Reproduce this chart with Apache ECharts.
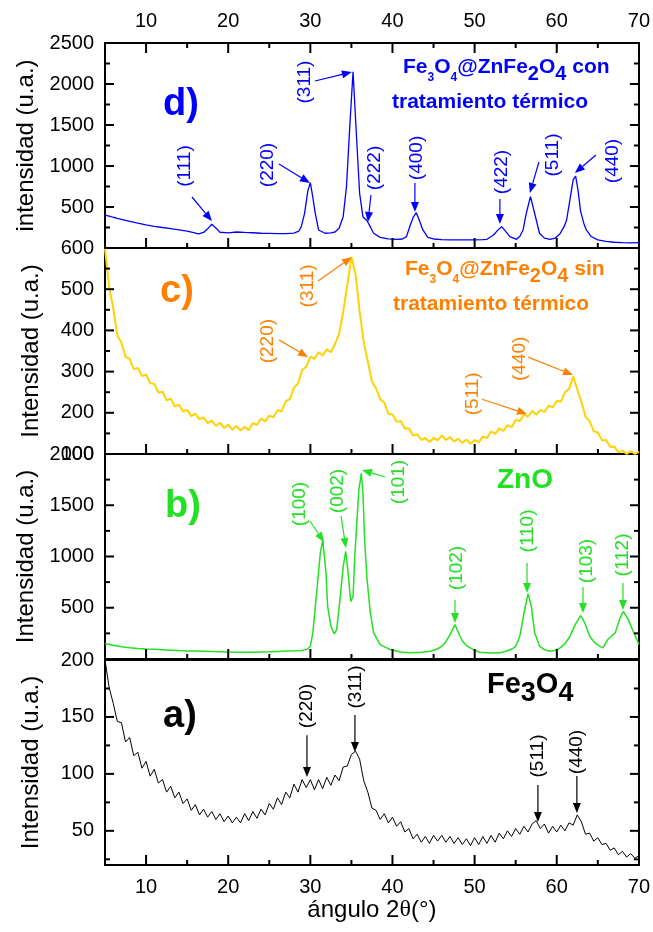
<!DOCTYPE html>
<html><head><meta charset="utf-8">
<script src="https://cdn.jsdelivr.net/npm/echarts@6.0.0/dist/echarts.min.js"></script>
<style>html,body{margin:0;padding:0;background:#fff}#c{width:653px;height:932px}</style>
</head><body><div id="c"></div>
<script>
// ---------- tick labels ----------
const X_LABELS = [10, 20, 30, 40, 50, 60, 70];
const X_MAJOR = [10, 20, 30, 40, 50, 60];
const X_MINOR = [15, 25, 35, 45, 55, 65];
const D_LABELS = [500, 1000, 1500, 2000, 2500];
const D_MAJOR = [500, 1000, 1500, 2000];
const D_MINOR = [250, 750, 1250, 1750, 2250];
const C_LABELS = [100, 200, 300, 400, 500, 600];
const C_MAJOR = [200, 300, 400, 500];
const C_MINOR = [150, 250, 350, 450, 550];
const B_LABELS = [500, 1000, 1500, 2000];
const B_MAJOR = [500, 1000, 1500];
const B_MINOR = [250, 750, 1250, 1750];
const A_LABELS = [50, 100, 150, 200];
const A_MAJOR = [50, 100, 150];
const A_MINOR = [25, 75, 125, 175];

// ---------- data ----------
// d) Fe3O4@ZnFe2O4 con tratamiento térmico  [2θ, intensity]
const panelD = [[5,402],[5.5,390],[6,375],[6.5,362],[7,350],[8,325],[9,302],[10,282],[11,265],[12,250],[13,236],[14,222],[15,205],[15.8,188],[16.4,172],[17,190],[17.6,245],[18,290],[18.5,245],[19,192],[20,185],[21,195],[22,190],[23,186],[24,180],[25,178],[26,176],[27,176],[28,182],[28.6,205],[28.9,260],[29.3,423],[29.7,700],[30.0,797],[30.3,620],[30.6,423],[31.0,220],[31.8,180],[32.5,185],[33,195],[33.5,240],[34.0,382],[34.4,748],[34.8,1480],[35.2,2150],[35.6,1400],[36.0,667],[36.4,382],[36.9,333],[37.3,260],[37.7,180],[38.5,130],[39.5,112],[40.5,105],[41.2,110],[41.7,138],[42.1,260],[42.5,370],[42.9,431],[43.3,330],[43.7,220],[44.3,130],[45,110],[46,102],[47,100],[48,98],[49,98],[50,100],[51,102],[51.5,106],[52.3,158],[52.8,215],[53.3,260],[53.8,200],[54.3,138],[55.1,106],[55.5,140],[55.9,220],[56.3,427],[56.8,626],[57.3,427],[57.9,180],[58.5,120],[59.2,105],[59.8,120],[60.4,175],[60.9,260],[61.2,341],[61.6,585],[62.0,830],[62.3,878],[62.6,700],[62.9,450],[63.3,300],[63.6,220],[64.2,140],[65,100],[66,80],[67,70],[68,65],[69,62],[70,65]];

// c) Fe3O4@ZnFe2O4 sin tratamiento térmico, values every 0.5° from 5° to 70°
const panelCStart = 5, panelCStep = 0.5;
const panelC = [598,505,455,388,370,336,331,306,309,289,293,272,270,249,251,230,234,215,220,203,207,192,198,184,189,175,181,168,176,163,171,159,168,157,166,158,175,171,186,179,193,189,206,204,228,233,261,271,304,312,336,331,347,339,354,347,367,392,446,511,578,536,445,371,324,276,259,233,225,197,196,178,180,162,162,145,148,134,139,129,139,133,145,134,141,130,137,127,135,125,134,129,142,139,155,149,162,156,170,165,183,180,195,191,205,195,207,202,217,213,229,227,250,258,288,256,226,190,179,155,152,133,134,117,118,104,108,100,107,100,106];

// b) ZnO  [2θ, intensity]
const panelB = [[5,151],[6,135],[7,120],[8,109],[9,103],[10,98],[11,94],[12,90],[13,86],[14,82],[15,79],[16,77],[17,75],[18,72],[19,70],[20,68],[21,67],[22,66],[23,67],[24,69],[25,71],[26,74],[27,77],[28,80],[29,84],[29.6,95],[30,125],[30.3,258],[30.8,676],[31.2,1030],[31.5,1163],[31.7,1150],[31.9,842],[32.1,514],[32.5,319],[32.9,245],[33.2,287],[33.6,579],[34,903],[34.3,1049],[34.6,839],[34.9,562],[35.2,611],[35.4,1000],[35.7,1389],[35.9,1649],[36.2,1812],[36.4,1617],[36.6,1163],[36.9,774],[37.3,450],[37.7,255],[38.5,141],[39.7,92],[41,68],[42.1,60],[43.5,65],[44.6,76],[45.5,100],[46,125],[46.4,158],[47,238],[47.6,336],[48.2,222],[48.6,165],[49.1,125],[50,85],[50.6,66],[52,58],[53.1,60],[54,80],[54.6,100],[55,125],[55.5,222],[56,450],[56.5,637],[56.9,514],[57.3,255],[57.9,125],[58.5,90],[59.2,76],[59.8,85],[60.4,109],[61,150],[61.6,222],[62.2,330],[62.6,384],[62.9,423],[63.4,352],[64,222],[64.5,170],[64.9,141],[65.6,109],[66.2,190],[66.6,220],[67.1,255],[67.7,401],[68.1,465],[68.7,384],[69.3,271],[70,141]];

// a) Fe3O4, values every 0.5° from 5° to 70°
const panelAStart = 5, panelAStep = 0.5;
const panelA = [200,176,162,146,145,128,132,116,119,105,111,98,104,92,95,84,89,79,84,74,78,68,73,64,69,62,67,60,65,58,63,57,62,57,65,59,67,61,69,64,74,69,79,73,84,79,91,84,95,88,95,86,95,87,97,90,99,94,106,107,117,120,113,94,84,70,68,60,65,57,62,54,58,49,52,43,47,40,45,39,46,41,46,40,45,39,44,38,43,37,44,38,45,39,46,40,48,43,50,45,52,47,54,49,56,59,52,56,48,54,49,55,50,57,55,64,58,47,48,41,44,38,39,33,35,29,32,27,30,26,28];

// annotations: [label, labelX, labelY, fromX, fromY, toX, toY] in data units
const annD = [['(111)',14.74,1000,15.59,622,18.02,329],['(220)',24.84,1012,26.18,1024,29.95,793],['(311)',29.34,2024,30.56,2037,35.06,2146],['(222)',37.86,976,37.38,646,37.01,317],['(400)',42.98,1098,42.73,793,42.73,439],['(422)',53.32,927,53.08,598,53.08,293],['(511)',59.53,1134,57.83,1049,56.73,671],['(440)',66.83,1061,64.77,1134,62.21,915]];
const annC = [['(311)',29.71,508,30.93,520,35.06,578],['(220)',24.84,374,26.18,377,29.71,335],['(511)',49.79,246,50.89,233,56.37,197],['(440)',55.51,331,56.49,335,61.97,292]];
const annB = [['(100)',28.74,1512,29.95,1346,31.66,1141],['(002)',33.36,1639,33.73,1395,34.33,1083],['(101)',40.79,1727,39.08,1776,36.28,1844],['(102)',47.85,888,47.60,576,47.60,351],['(110)',56.49,1249,56.37,937,56.37,644],['(103)',63.67,956,63.18,702,63.18,449],['(112)',68.05,1015,68.05,741,68.05,478]];
const annA = [['(220)',29.59,159.6,29.59,134,29.59,97.3],['(311)',35.55,176.3,35.43,151.7,35.43,119.2],['(511)',57.71,115.7,57.71,90.2,57.71,57.8],['(440)',62.45,119.2,62.45,98.1,62.45,65.7]];

// ---------- build ----------
const FF = '"Liberation Sans", Arial, sans-serif';
const BLUE = '#0000FF', ORANGE = '#FF8000', YELLOW = '#FFD200', GREEN = '#22E022', BLACK = '#000000';
const TICK = '#000000';

function uniform(start, step, vals) { return vals.map((v, i) => [start + i * step, v]); }

const panels = [
  {top: 43, height: 205, min: 0, max: 2500, labels: D_LABELS, major: D_MAJOR, minor: D_MINOR, name: 'intensidad (u.a.)', data: panelD, color: BLUE, width: 1.3, ann: annD, annColor: BLUE},
  {top: 248, height: 206, min: 100, max: 600, labels: C_LABELS, major: C_MAJOR, minor: C_MINOR, name: 'Intensidad (u.a.)', data: uniform(panelCStart, panelCStep, panelC), color: YELLOW, width: 2, ann: annC, annColor: ORANGE},
  {top: 454, height: 205, min: 0, max: 2000, labels: B_LABELS, major: B_MAJOR, minor: B_MINOR, name: 'Intensidad (u.a.)', data: panelB, color: GREEN, width: 1.5, ann: annB, annColor: GREEN},
  {top: 660, height: 205, min: 20, max: 200, labels: A_LABELS, major: A_MAJOR, minor: A_MINOR, name: 'Intensidad (u.a.)', data: uniform(panelAStart, panelAStep, panelA), color: BLACK, width: 1, ann: annA, annColor: BLACK}
];

const fmt = v => String(v);
const grid = [], xAxis = [], yAxis = [], series = [];
panels.forEach((p, i) => {
  grid.push({left: 105, right: 14, top: p.top, height: p.height, containLabel: false});
  ['bottom', 'top'].forEach(pos => {
    const showLab = (pos === 'bottom' && i === 3) || (pos === 'top' && i === 0);
    const ax = {type: 'value', gridIndex: i, position: pos, min: 5, max: 70,
      axisLine: {show: true, onZero: false, lineStyle: {color: '#000', width: 2}},
      axisTick: {show: false},
      axisLabel: {show: showLab, customValues: X_LABELS, formatter: fmt, margin: 12, color: '#000', fontSize: 20, fontFamily: FF},
      splitLine: {show: false}};
    if (pos === 'bottom' && i === 3) {
      ax.name = 'ángulo 2{s|θ}(°)';
      ax.nameLocation = 'middle';
      ax.nameGap = 33;
      ax.nameTextStyle = {fontSize: 24, color: '#000', fontFamily: FF, rich: {s: {fontSize: 24, fontFamily: '"Liberation Serif", serif', color: '#000'}}};
    }
    xAxis.push(ax);
  });
  ['left', 'right'].forEach(pos => {
    const ax = {type: 'value', gridIndex: i, position: pos, min: p.min, max: p.max,
      axisLine: {show: true, onZero: false, lineStyle: {color: '#000', width: 2}},
      axisTick: {show: false},
      axisLabel: {show: pos === 'left', customValues: p.labels, formatter: fmt, margin: 11, color: '#000', fontSize: 20, fontFamily: FF},
      splitLine: {show: false}};
    if (pos === 'left') {
      ax.name = p.name; ax.nameLocation = 'middle'; ax.nameGap = 62;
      ax.nameTextStyle = {fontSize: 24, color: '#000', fontFamily: FF};
    }
    yAxis.push(ax);
  });
  series.push({type: 'line', xAxisIndex: 2 * i, yAxisIndex: 2 * i, data: p.data, showSymbol: false, symbol: 'none',
    lineStyle: {color: p.color, width: p.width}, itemStyle: {color: p.color}, clip: true, z: 5});
});

const chart = echarts.init(document.getElementById('c'), null, {renderer: 'canvas'});
chart.setOption({animation: false, backgroundColor: '#fff', grid, xAxis, yAxis, series});

// ---------- ticks (inward), annotations & texts ----------
const g = [];
function seg(x1, y1, x2, y2, color, w) {
  g.push({type: 'line', z: 90, shape: {x1: x1, y1: y1, x2: x2, y2: y2}, style: {stroke: color, lineWidth: w}});
}
panels.forEach((p, i) => {
  const f = {xAxisIndex: 2 * i, yAxisIndex: 2 * i};
  X_MAJOR.forEach(v => { const q = chart.convertToPixel(f, [v, p.min]); seg(q[0], q[1], q[0], q[1] - 10, TICK, 2); });
  X_MINOR.forEach(v => { const q = chart.convertToPixel(f, [v, p.min]); seg(q[0], q[1], q[0], q[1] - 5, TICK, 2); });
  if (i === 0) {
    X_MAJOR.forEach(v => { const q = chart.convertToPixel(f, [v, p.max]); seg(q[0], q[1], q[0], q[1] + 10, TICK, 2); });
    X_MINOR.forEach(v => { const q = chart.convertToPixel(f, [v, p.max]); seg(q[0], q[1], q[0], q[1] + 5, TICK, 2); });
  }
  p.major.forEach(v => {
    const l = chart.convertToPixel(f, [5, v]), r = chart.convertToPixel(f, [70, v]);
    seg(l[0], l[1], l[0] + 9, l[1], TICK, 2); seg(r[0], r[1], r[0] - 9, r[1], TICK, 2);
  });
  p.minor.forEach(v => {
    const l = chart.convertToPixel(f, [5, v]), r = chart.convertToPixel(f, [70, v]);
    seg(l[0], l[1], l[0] + 5, l[1], TICK, 2); seg(r[0], r[1], r[0] - 5, r[1], TICK, 2);
  });
});

function arrow(p1, p2, color) {
  const dx = p2[0] - p1[0], dy = p2[1] - p1[1], L = Math.hypot(dx, dy), ux = dx / L, uy = dy / L;
  const hl = 10, hw = 4;
  const bx = p2[0] - ux * hl, by = p2[1] - uy * hl;
  g.push({type: 'line', z: 100, shape: {x1: p1[0], y1: p1[1], x2: bx, y2: by}, style: {stroke: color, lineWidth: 1.2}});
  g.push({type: 'polygon', z: 100, shape: {points: [[p2[0], p2[1]], [bx - uy * hw, by + ux * hw], [bx + uy * hw, by - ux * hw]]}, style: {fill: color}});
}
panels.forEach((p, i) => {
  const f = {xAxisIndex: 2 * i, yAxisIndex: 2 * i};
  p.ann.forEach(a => {
    const lp = chart.convertToPixel(f, [a[1], a[2]]);
    g.push({type: 'text', z: 100, x: lp[0], y: lp[1], rotation: Math.PI / 2,
      style: {text: a[0], font: '19px ' + FF, fill: p.annColor, align: 'center', verticalAlign: 'middle'}});
    arrow(chart.convertToPixel(f, [a[3], a[4]]), chart.convertToPixel(f, [a[5], a[6]]), p.annColor);
  });
});

const ctx = document.createElement('canvas').getContext('2d');
function richLine(left, baseline, segs, color) {
  let x = left;
  segs.forEach(([t, size, dy]) => {
    const font = 'bold ' + size + 'px ' + FF;
    ctx.font = font;
    const w = ctx.measureText(t).width;
    g.push({type: 'text', z: 100, x: x, y: baseline + dy - 0.35 * size,
      style: {text: t, font: font, fill: color, align: 'left', verticalAlign: 'middle'}});
    x += w;
  });
}
richLine(163, 118, [['d)', 38, 0]], BLUE);
richLine(160, 305, [['c)', 38, 0]], ORANGE);
richLine(165, 520, [['b)', 38, 0]], GREEN);
richLine(163, 730, [['a)', 38, 0]], BLACK);
richLine(403, 75, [['Fe', 21, 0], ['3', 12, 7], ['O', 21, 0], ['4', 12, 7], ['@ZnFe', 21, 0], ['2', 20, 6], ['O', 21, 0], ['4', 20, 6], [' con', 21, 0]], BLUE);
richLine(392, 110, [['tratamiento térmico', 21, 0]], BLUE);
richLine(405, 277, [['Fe', 21, 0], ['3', 12, 7], ['O', 21, 0], ['4', 12, 7], ['@ZnFe', 21, 0], ['2', 20, 6], ['O', 21, 0], ['4', 20, 6], [' sin', 21, 0]], ORANGE);
richLine(393, 312, [['tratamiento térmico', 21, 0]], ORANGE);
richLine(497, 490, [['ZnO', 28, 0]], GREEN);
richLine(487, 695, [['Fe', 29, 0], ['3', 27, 8], ['O', 29, 0], ['4', 27, 8]], BLACK);

chart.setOption({graphic: g});
</script></body></html>
